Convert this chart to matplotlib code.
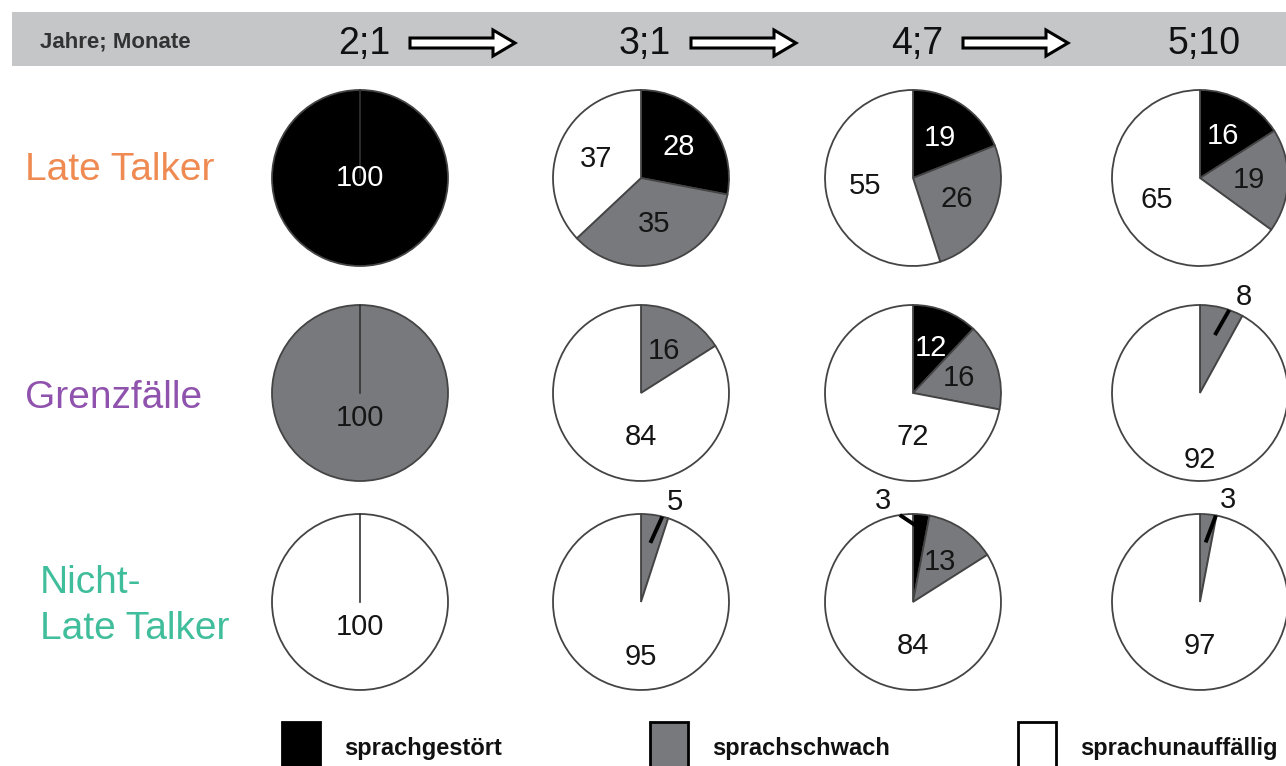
import matplotlib.pyplot as plt
import numpy as np
from matplotlib.patches import Rectangle, FancyArrow

W, H = 1286, 766

ages = ['2;1', '3;1', '4;7', '5;10']
groups = ['Late Talker', 'Grenzfälle', 'Nicht-\nLate Talker']
categories = ['sprachgestört', 'sprachschwach', 'sprachunauffällig']

# shares in % per age: [sprachgestört, sprachschwach, sprachunauffällig]
late_talker = [[100, 0, 0], [28, 35, 37], [19, 26, 55], [16, 19, 65]]
grenzfaelle = [[0, 100, 0], [0, 16, 84], [12, 16, 72], [0, 8, 92]]
nicht_late_talker = [[0, 0, 100], [0, 5, 95], [3, 13, 84], [0, 3, 97]]
shares = [late_talker, grenzfaelle, nicht_late_talker]

colors = ['black', '#77797c', 'white']
text_colors = ['white', '#151515', '#151515']
group_colors = ['#ee8a52', '#8f52ad', '#40be9c']

# layout in pixels from the top left
col_x = [360, 641, 913, 1200]
row_y = [178, 393, 602]
R = 88

sans = ['Liberation Sans', 'DejaVu Sans']
num_font = dict(family=sans, fontsize=21)


def Y(y):
    return H - y


def polar(cx, cy, ang, dist):
    a = np.deg2rad(ang)
    return cx + dist * np.cos(a), Y(cy) + dist * np.sin(a)


fig = plt.figure(figsize=(W / 100, H / 100), dpi=100)
ax = fig.add_axes([0, 0, 1, 1])

for i, grp in enumerate(shares):
    for j, vals in enumerate(grp):
        cx, cy = col_x[j], row_y[i]
        idx = [k for k, v in enumerate(vals) if v > 0]
        ax.pie([vals[k] for k in idx], colors=[colors[k] for k in idx],
               startangle=90, counterclock=False, center=(cx, Y(cy)), radius=R,
               wedgeprops=dict(edgecolor='#444444', linewidth=1.3))
        cum = 0
        for k in idx:
            v = vals[k]
            t1 = 90 - cum * 3.6
            t2 = 90 - (cum + v) * 3.6
            mid = (t1 + t2) / 2
            cum += v
            if v == 100:
                ax.plot([cx, cx], [Y(cy), Y(cy) + R], color='#333333', lw=1.2)
                d = 0 if k == 0 else 0.28 * R
                ax.text(cx, Y(cy) - d, str(v), ha='center', va='center',
                        color=text_colors[k], **num_font)
            elif v < 10:
                off_line, off_lab = (14, 22) if k == 0 else (-5, -10)
                d1 = 0.84 * R if k == 0 else 0.68 * R
                p1 = polar(cx, cy, mid, d1)
                p2 = polar(cx, cy, mid + off_line, 1.0 * R)
                ax.plot([p1[0], p2[0]], [p1[1], p2[1]], color='black', lw=2.8,
                        solid_capstyle='butt')
                lx, ly = polar(cx, cy, mid + off_lab, 1.2 * R)
                ax.text(lx, ly, str(v), ha='center', va='center',
                        color='#151515', **num_font)
            else:
                if k == 2 and v >= 70:
                    ang, d = -90, 0.5 * R
                    if v >= 90 and k == 2 and i == 1:
                        d = 0.76 * R
                    elif v >= 95:
                        d = 0.5 * R if v == 97 else 0.62 * R
                else:
                    ang, d = mid, 0.55 * R
                lx, ly = polar(cx, cy, ang, d)
                ax.text(lx, ly, str(v), ha='center', va='center',
                        color=text_colors[k], **num_font)

# header bar
ax.add_patch(Rectangle((12, Y(66)), W - 12, 54, facecolor='#c5c6c8',
                       edgecolor='none', zorder=0))
ax.text(40, Y(42), 'Jahre; Monate', ha='left', va='center', color='#333333',
        family=sans, fontweight='bold', fontsize=16)
for j, age in enumerate(ages):
    ax.text(col_x[j] + 4, Y(44), age, ha='center', va='center', color='#111111',
            family=sans, fontsize=27)
    if j < len(ages) - 1:
        ax.add_patch(FancyArrow(col_x[j] + 50, Y(43), 105, 0, width=10,
                                head_width=26, head_length=22,
                                length_includes_head=True, facecolor='white',
                                edgecolor='black', lw=2.2))

# group labels
ax.text(25, Y(170), groups[0], ha='left', va='center', color=group_colors[0],
        family=sans, fontsize=28)
ax.text(25, Y(398), groups[1], ha='left', va='center', color=group_colors[1],
        family=sans, fontsize=28)
ax.text(40, Y(606), groups[2], ha='left', va='center', color=group_colors[2],
        family=sans, fontsize=28, linespacing=1.36)

# legend
leg_x = [282, 650, 1018]
for k, cat in enumerate(categories):
    ax.add_patch(Rectangle((leg_x[k], Y(770)), 38, 48, facecolor=colors[k],
                           edgecolor='black', lw=2))
    ax.text(leg_x[k] + 62, Y(749), cat, ha='left', va='center', color='#111111',
            family=sans, fontweight='bold', fontsize=17)

ax.set_xlim(0, W)
ax.set_ylim(0, H)
ax.set_aspect('auto')
ax.axis('off')
fig.savefig('out.png', dpi=100, facecolor='white')
